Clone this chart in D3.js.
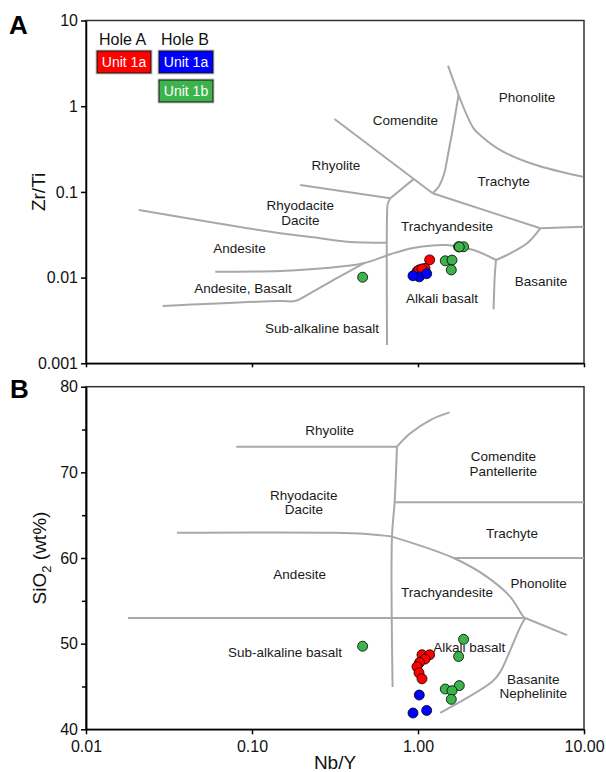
<!DOCTYPE html>
<html>
<head>
<meta charset="utf-8">
<script src="https://cdn.jsdelivr.net/npm/d3@7"></script>
<style>
body { margin: 0; background: #fff; }
svg { font-family: "Liberation Sans", Arial, sans-serif; }
.bound { fill: none; stroke: #a8a8a8; stroke-width: 2; }
.region { font-size: 13.5px; fill: #1a1a1a; text-anchor: middle; }
.axis text { font-size: 16px; fill: #111; font-family: "Liberation Sans", Arial, sans-serif; }
.axis path, .axis line { stroke: #000; stroke-width: 1.5; }
</style>
</head>
<body>
<script>
var width = 606,
  height = 772;

// samples: Nb/Y, Zr/Ti, SiO2 (wt%)
var holeA_1a_nbY = [1.057, 1.175, 1.102, 1.022, 0.986, 1.014, 1.057];
var holeA_1a_zrTi = [0.0125, 0.0161, 0.0128, 0.0121, 0.0118, 0.0123, 0.0126];
var holeA_1a_sio2 = [48.7, 48.7, 48.2, 47.8, 47.3, 46.6, 45.9];

var holeB_1a_nbY = [1.018, 0.933, 1.128];
var holeB_1a_zrTi = [0.0102, 0.0105, 0.0111];
var holeB_1a_sio2 = [44.0, 41.9, 42.2];

var holeB_1b_nbY = [0.464, 1.882, 1.756, 1.773, 1.460, 1.603, 1.587];
var holeB_1b_zrTi = [0.0101, 0.0229, 0.0229, 0.0228, 0.0157, 0.0160, 0.0123];
var holeB_1b_sio2 = [49.7, 50.5, 48.5, 45.1, 44.7, 44.5, 43.5];

// field boundaries (Nb/Y, Zr/Ti)
var boundsA = [
  [[0.314, 0.709], [1.225, 0.0963]],
  [[0.195, 0.120], [0.681, 0.0842]],
  [[0.681, 0.0842], [0.941, 0.141]],
  [[1.516, 2.97], [1.756, 1.351]],
  [[1.756, 1.351], [1.603, 0.483], [1.495, 0.236], [1.440, 0.165], [1.331, 0.115], [1.225, 0.0963]],
  [[1.756, 1.351], [2.162, 0.552], [2.43, 0.441], [3.131, 0.308], [4.971, 0.21], [9.86, 0.150]],
  [[1.225, 0.0963], [5.454, 0.0376]],
  [[5.454, 0.0376], [10, 0.0393]],
  [[0.681, 0.0842], [0.657, 0.0723], [0.651, 0.0538], [0.651, 0.00164]],
  [[0.0208, 0.0615], [0.148, 0.0329], [0.235, 0.0295], [0.374, 0.0262], [0.651, 0.0255]],
  [[0.0601, 0.01172], [0.148, 0.01194], [0.270, 0.01284], [0.470, 0.01468], [0.681, 0.0187], [0.899, 0.0219], [1.186, 0.0236], [1.495, 0.0240], [2.162, 0.0210], [2.951, 0.01605]],
  [[0.0289, 0.00466], [0.148, 0.00533], [0.182, 0.00533], [0.2145, 0.00626], [0.310, 0.00938], [0.470, 0.01468]],
  [[5.454, 0.0376], [4.535, 0.0251], [3.437, 0.01835], [2.951, 0.01605]],
  [[2.951, 0.01605], [2.902, 0.01072], [2.854, 0.00427]]
];

// field boundaries (Nb/Y, SiO2)
var boundsB = [
  [[0.0804, 73], [0.747, 73]],
  [[0.747, 73], [0.899, 74.56], [1.186, 76.11], [1.55, 77.0]],
  [[0.747, 73], [0.723, 66.5], [0.697, 62.5], [0.703, 44.95]],
  [[0.723, 66.5], [10, 66.5]],
  [[1.639, 60], [10, 60]],
  [[0.0353, 62.94], [0.310, 62.94], [0.493, 62.79], [0.697, 62.5]],
  [[0.697, 62.5], [1.639, 60], [2.604, 57.8], [3.597, 55.47], [4.326, 53.13], [4.43, 53]],
  [[0.0179, 53], [4.43, 53]],
  [[4.43, 53], [7.9, 51]],
  [[4.43, 53], [4.133, 51.96], [3.597, 49.24], [3.131, 46.71], [2.791, 45.54], [1.362, 41.92]]
];

var fieldsA = [
  ["Phonolite", 4.535, 1.256],
  ["Comendite", 0.8385, 0.690],
  ["Rhyolite", 0.3206, 0.2021],
  ["Trachyte", 3.280, 0.1315],
  ["Rhyodacite|Dacite", 0.1954, 0.0685],
  ["Trachyandesite", 1.4953, 0.0400],
  ["Andesite", 0.0842, 0.02197],
  ["Andesite, Basalt", 0.0883, 0.0075],
  ["Alkali basalt", 1.395, 0.005735],
  ["Basanite", 5.508, 0.009126],
  ["Sub-alkaline basalt", 0.2641, 0.00256]
];

var fieldsB = [
  ["Rhyolite", 0.2935, 74.94],
  ["Comendite|Pantellerite", 3.266, 71.82],
  ["Rhyodacite|Dacite", 0.2051, 67.35],
  ["Trachyte", 3.684, 62.87],
  ["Andesite", 0.1936, 58.12],
  ["Trachyandesite", 1.4953, 55.98],
  ["Phonolite", 5.326, 57.03],
  ["Sub-alkaline basalt", 0.158, 48.97],
  ["Alkali basalt", 2.037, 49.51],
  ["Basanite|Nephelinite", 4.95, 45.85]
];

var xTicks = [0.01, 0.1, 1, 10];
var yTicksA = [0.001, 0.01, 0.1, 1, 10];
var yTicksB = [40, 50, 60, 70, 80];
var yMinorB = [45, 55, 65, 75];

var series = [
  { hole: "Hole A", unit: "Unit 1a", color: "#ff0000", nbY: holeA_1a_nbY, zrTi: holeA_1a_zrTi, sio2: holeA_1a_sio2 },
  { hole: "Hole B", unit: "Unit 1b", color: "#3cb44b", nbY: holeB_1b_nbY, zrTi: holeB_1b_zrTi, sio2: holeB_1b_sio2 },
  { hole: "Hole B", unit: "Unit 1a", color: "#0000ff", nbY: holeB_1a_nbY, zrTi: holeB_1a_zrTi, sio2: holeB_1a_sio2 }
];

var svg = d3.select("body").append("svg")
  .attr("width", width)
  .attr("height", height);

var left = 86, right = 584;

var x = d3.scaleLog().domain([0.01, 10]).range([left, right]);
var yA = d3.scaleLog().domain([0.001, 10]).range([363.3, 20.5]);
var yB = d3.scaleLinear().domain([40, 80]).range([729.3, 386.7]);

function drawPanel(y, bounds, fields, key) {
  var g = svg.append("g");
  var r = y.range();

  // frame
  g.append("rect")
    .attr("x", left).attr("y", r[1])
    .attr("width", right - left).attr("height", r[0] - r[1])
    .attr("fill", "none").attr("stroke", "#333").attr("stroke-width", 1.5);

  var line = d3.line()
    .x(d => x(d[0]))
    .y(d => y(d[1]))
    .curve(d3.curveCatmullRom.alpha(0.5));

  g.selectAll(".bound")
    .data(bounds)
    .enter().append("path")
    .attr("class", "bound")
    .attr("d", line);

  var t = g.selectAll(".region")
    .data(fields)
    .enter().append("text")
    .attr("class", "region")
    .attr("transform", d => "translate(" + x(d[1]) + "," + y(d[2]) + ")");

  t.each(function (d) {
    var parts = d[0].split("|");
    var el = d3.select(this);
    parts.forEach((p, i) => {
      el.append("tspan").attr("x", 0).attr("y", i * 14.5 + 4.5).text(p);
    });
  });

  series.forEach(s => {
    var pts = s.nbY.map((v, i) => [v, s[key][i]]);
    g.selectAll(null)
      .data(pts)
      .enter().append("circle")
      .attr("cx", d => x(d[0]))
      .attr("cy", d => y(d[1]))
      .attr("r", 5)
      .attr("fill", s.color)
      .attr("stroke", "#000")
      .attr("stroke-width", 0.8);
  });
  return g;
}

var gA = drawPanel(yA, boundsA, fieldsA, "zrTi");
var gB = drawPanel(yB, boundsB, fieldsB, "sio2");

// axes panel A
svg.append("g").attr("class", "axis")
  .attr("transform", "translate(" + left + ",0)")
  .call(d3.axisLeft(yA).tickValues(yTicksA).tickFormat(d => String(d))
    .tickSize(5).tickPadding(3).tickSizeOuter(0));

svg.append("g").attr("class", "axis")
  .attr("transform", "translate(0," + yA.range()[0] + ")")
  .call(d3.axisBottom(x).tickValues(xTicks).tickFormat("")
    .tickSize(4).tickSizeOuter(0));

// axes panel B
svg.append("g").attr("class", "axis")
  .attr("transform", "translate(" + left + ",0)")
  .call(d3.axisLeft(yB).tickValues(yTicksB).tickFormat(d3.format("d"))
    .tickSize(5).tickPadding(3).tickSizeOuter(0));

svg.append("g").attr("class", "axis")
  .attr("transform", "translate(" + left + ",0)")
  .call(d3.axisLeft(yB).tickValues(yMinorB).tickFormat("")
    .tickSize(4).tickSizeOuter(0));

svg.append("g").attr("class", "axis")
  .attr("transform", "translate(0," + yB.range()[0] + ")")
  .call(d3.axisBottom(x).tickValues(xTicks).tickFormat(d3.format(".2f"))
    .tickSize(5).tickPadding(6).tickSizeOuter(0));

// axis titles
svg.append("text")
  .attr("transform", "translate(45," + (yA.range()[0] + yA.range()[1]) / 2 + ") rotate(-90)")
  .attr("text-anchor", "middle")
  .style("font-size", "19px").attr("fill", "#111")
  .text("Zr/Ti");

var sio = svg.append("text")
  .attr("transform", "translate(46," + (yB.range()[0] + yB.range()[1]) / 2 + ") rotate(-90)")
  .attr("text-anchor", "middle")
  .style("font-size", "19px").attr("fill", "#111");
sio.append("tspan").text("SiO");
sio.append("tspan").attr("dy", 5).style("font-size", "13px").text("2");
sio.append("tspan").attr("dy", -5).text(" (wt%)");

svg.append("text")
  .attr("x", (left + right) / 2).attr("y", 769)
  .attr("text-anchor", "middle")
  .style("font-size", "19px").attr("fill", "#111")
  .text("Nb/Y");

// panel letters
svg.append("text").attr("x", 9).attr("y", 34)
  .style("font-size", "26px").style("font-weight", "bold").text("A");
svg.append("text").attr("x", 10).attr("y", 398)
  .style("font-size", "26px").style("font-weight", "bold").text("B");

// legend
var legend = [
  { hole: "Hole A", col: 0, row: 0, s: series[0] },
  { hole: "Hole B", col: 1, row: 0, s: series[2] },
  { hole: null, col: 1, row: 1, s: series[1] }
];

var lg = svg.append("g").attr("transform", "translate(97,51)");
lg.selectAll(".hole")
  .data(legend.filter(d => d.hole))
  .enter().append("text")
  .attr("x", d => d.col * 62 + 2)
  .attr("y", -6)
  .style("font-size", "16px").attr("fill", "#111")
  .text(d => d.hole);

var items = lg.selectAll(".item")
  .data(legend)
  .enter().append("g")
  .attr("transform", d => "translate(" + d.col * 62 + "," + d.row * 29 + ")");

items.append("rect")
  .attr("x", -1).attr("y", -1).attr("width", 56).attr("height", 24)
  .attr("fill", "none").attr("stroke", "#c8c8c8").attr("stroke-width", 1);
items.append("rect")
  .attr("width", 54).attr("height", 22)
  .attr("fill", d => d.s.color).attr("stroke", "#111").attr("stroke-width", 1);
items.append("text")
  .attr("x", 27).attr("y", 16)
  .attr("text-anchor", "middle")
  .style("font-size", "14px").attr("fill", "#fff")
  .text(d => d.s.unit);
</script>
</body>
</html>
